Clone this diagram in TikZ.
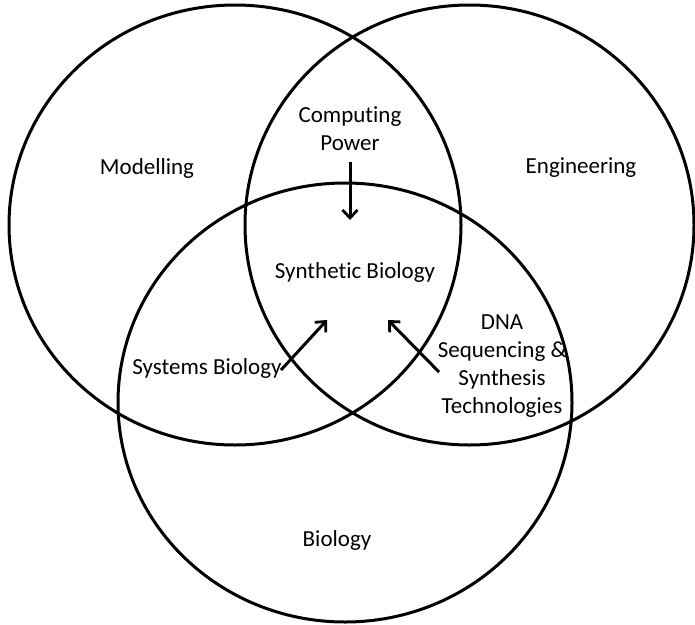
\documentclass[tikz,border=0pt]{standalone}
\usepackage{fontspec}
\setmainfont{Carlito}[Ligatures={NoCommon}]
\usetikzlibrary{arrows.meta}
\begin{document}
\begin{tikzpicture}[x=1pt,y=-1pt,
  ring/.style={line width=3pt},
  lbl/.style={font=\fontsize{23}{28}\selectfont, align=center, inner sep=0pt},
  arr/.style={line width=3pt, -{Straight Barb[length=8pt,width=15pt,line width=2.8pt]}}]
\useasboundingbox (0,0) rectangle (695,624);
\fill[white] (0,0) rectangle (695,624);
% circle centres
\coordinate (cm) at (235,225);
\coordinate (ce) at (469.5,225);
\coordinate (cb) at (345,402.5);
\draw[ring] (cm) ellipse [x radius=226pt, y radius=220pt];
\draw[ring] (ce) ellipse [x radius=224.5pt, y radius=220pt];
\draw[ring] (cb) ellipse [x radius=227pt, y radius=219.5pt];
% labels
\node[lbl] (modelling) at (147,168) {Modelling};
\node[lbl] (engineering) at (581,168) {Engineering};
\node[lbl] (computing) at (350,129) {Computing\\Power};
\node[lbl] (synbio) at (355,272) {Synthetic Biology};
\node[lbl] (sysbio) at (207,368) {Systems Biology};
\node[lbl] (dna) at (502,366) {DNA\\Sequencing \&\\Synthesis\\Technologies};
\node[lbl] (biology) at (337,540) {Biology};
% arrow ends
\coordinate (cpstart) at (350,162);
\coordinate (cptip) at (350,220);
\coordinate (sbstart) at (281,370);
\coordinate (sbtip) at (327,320);
\coordinate (dnastart) at (439,372);
\coordinate (dnatip) at (388,320);
\draw[arr] (cpstart) -- (cptip);
\draw[arr] (sbstart) -- (sbtip);
\draw[arr] (dnastart) -- (dnatip);
\end{tikzpicture}
\end{document}
